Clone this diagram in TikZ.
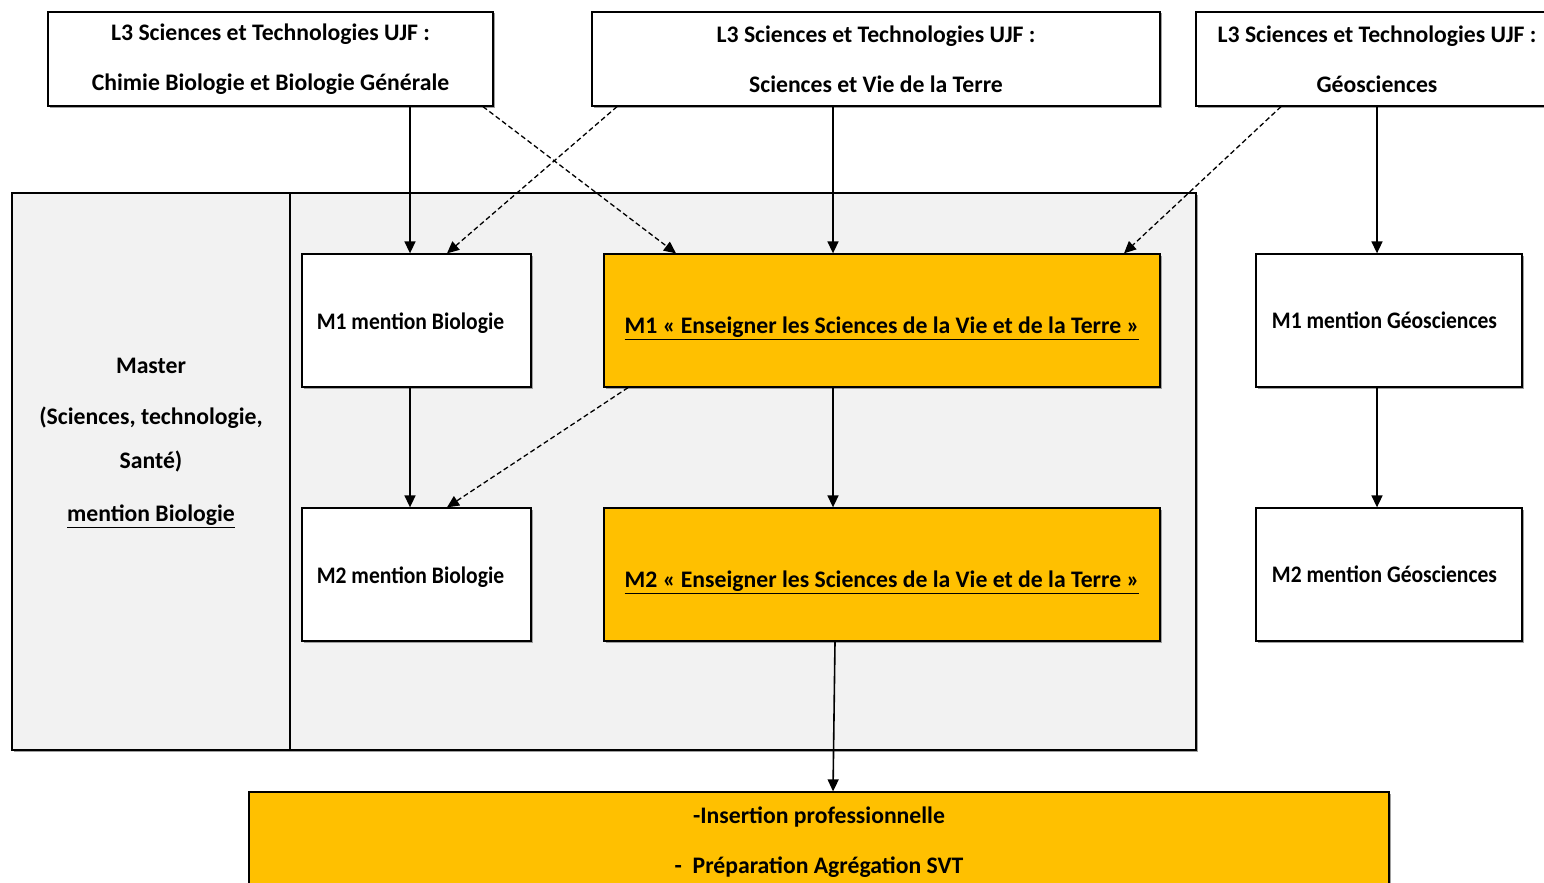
\documentclass[tikz,border=0pt]{standalone}
\usepackage{fontspec}
\setmainfont{Carlito}
\newfontfamily\narrowfont[FakeStretch=0.91]{Carlito}
\usepackage{tikz}
\usetikzlibrary{arrows.meta}
\usetikzlibrary{calc}
\usetikzlibrary{positioning}
\usetikzlibrary{shadows}
\definecolor{ujf-or}{HTML}{FFC000}
\definecolor{ujf-gris}{HTML}{F2F2F2}
\definecolor{ujf-ombre}{HTML}{A0A0A0}

\begin{document}
\begin{tikzpicture}[x=1pt, y=-1pt,
    box/.style={draw, line width=1.3pt, inner sep=0pt, align=center,
        font=\bfseries\fontsize{23.7}{50}\selectfont,
        drop shadow={shadow xshift=1.5pt, shadow yshift=-1.5pt, fill=ujf-ombre, opacity=1}},
    mention/.style={fill=white, text depth=5,
        font=\narrowfont\bfseries\fontsize{23.7}{50}\selectfont},
    link/.style={-{Triangle[length=12pt, width=11pt]}, line width=1.6pt},
    maybe/.style={link, line width=1.3pt, dash pattern=on 5pt off 3pt}]

    % page
    \useasboundingbox (0,0) rectangle (1544,883);

    % master frame
    \node[box, fill=ujf-gris, minimum width=278, minimum height=557] (master) at (151,471.5) {};
    \node[box, fill=ujf-gris, minimum width=906, minimum height=557] (panel) at (743,471.5) {};
    \node[align=center, font=\bfseries\fontsize{23.7}{44}\selectfont] (mastertxt) at (151,443)
        {Master\\[7pt] (Sciences, technologie,\\ Santé)\\[9pt] \underline{mention Biologie}};

    % L3 boxes
    \begin{scope}[every node/.style={box, fill=white, minimum height=94}]
        \node[minimum width=445] (l3bio) at (270.5,59) {L3 Sciences et Technologies UJF :\\ Chimie Biologie et Biologie Générale};
        \node[minimum width=568] (l3svt) at (876,59) {L3 Sciences et Technologies UJF :\\ Sciences et Vie de la Terre};
        \node[minimum width=362] (l3geo) at (1377,59) {L3 Sciences et Technologies UJF :\\ Géosciences};
    \end{scope}

    % M1 and M2 boxes
    \begin{scope}[every node/.style={box, minimum height=133}]
        \node[mention, minimum width=229, text height=22] (m1bio) at (416.5,320.5) {M1 mention Biologie\hspace*{12pt}};
        \node[mention, minimum width=229, text height=22] (m2bio) at (416.5,574.5) {M2 mention Biologie\hspace*{12pt}};
        \node[fill=ujf-or, minimum width=556, text height=30, text depth=4] (m1svt) at (882,320.5)
            {\underline{M1 « Enseigner les Sciences de la Vie et de la Terre »}};
        \node[fill=ujf-or, minimum width=556, text height=30, text depth=4] (m2svt) at (882,574.5)
            {\underline{M2 « Enseigner les Sciences de la Vie et de la Terre »}};
        \node[mention, minimum width=266, text height=20] (m1geo) at (1389,320.5) {M1 mention Géosciences\hspace*{9pt}};
        \node[mention, minimum width=266, text height=20] (m2geo) at (1389,574.5) {M2 mention Géosciences\hspace*{9pt}};
    \end{scope}

    % outcome
    \node[box, fill=ujf-or, minimum width=1140, minimum height=100] (debouche) at (819,842)
        {-Insertion professionnelle\\ -\ \ Préparation Agrégation SVT};

    % anchor points on the borders
    \coordinate (bio) at ([xshift=-6.5]m1bio.north);
    \coordinate (svt) at ([xshift=-49]m1svt.north);
    \coordinate (geo) at ([xshift=-12]m1geo.north);

    % solid links
    \begin{scope}[every edge/.style={link, draw}]
        \path (bio |- l3bio.south) edge (bio);
        \path (svt |- l3svt.south) edge (svt);
        \path (geo |- l3geo.south) edge (geo);
        \path (bio |- m1bio.south) edge (bio |- m2bio.north);
        \path (svt |- m1svt.south) edge (svt |- m2svt.north);
        \path (geo |- m1geo.south) edge (geo |- m2geo.north);
        \path ([xshift=-47]m2svt.south) edge ([xshift=14]debouche.north);
    \end{scope}

    % dashed links
    \begin{scope}[every edge/.style={maybe, draw}]
        \path ([xshift=212.5]l3bio.south) edge ([xshift=-206]m1svt.north);
        \path ([xshift=-259]l3svt.south) edge ([xshift=30.5]m1bio.north);
        \path ([xshift=-96]l3geo.south) edge ([xshift=242]m1svt.north);
        \path ([xshift=-254]m1svt.south) edge ([xshift=30.5]m2bio.north);
    \end{scope}

\end{tikzpicture}
\end{document}
